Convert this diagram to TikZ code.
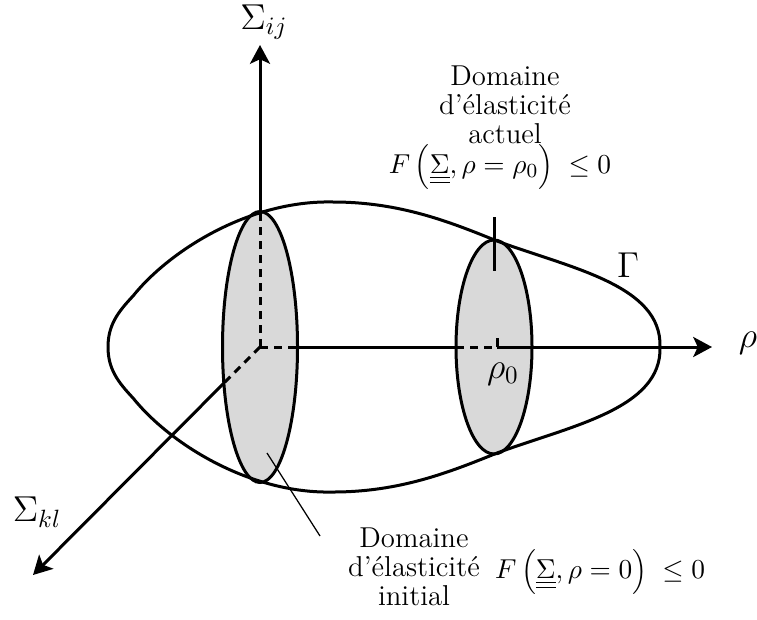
\documentclass[tikz,border=0pt]{standalone}
\usetikzlibrary{shapes.geometric,arrows.meta}
\newcommand\myLP{\mathopen{\hbox{$\left(\vrule height 9pt depth 4pt width 0pt\right.\kern-\nulldelimiterspace$}}}
\newcommand\myRP{\mathclose{\hbox{$\kern-\nulldelimiterspace\left.\vrule height 9pt depth 4pt width 0pt\right)$}}}
\begin{document}
\begin{tikzpicture}[x=0.4pt,y=-0.4pt,
  line width=1.2pt,
  every node/.style={inner sep=0pt, outer sep=0pt},
  disc/.style={ellipse, draw, fill=black!15, line width=1.2pt},
  hid/.style={dash pattern=on 3.2pt off 2.4pt},
  axarrow/.style={-{Stealth[length=7.5pt,width=8pt,inset=1.8pt]}},
  lbl/.style={font=\fontsize{14}{16}\selectfont},
  txt/.style={align=center, font=\fontsize{11.5}{11.6}\selectfont},
  frm/.style={font=\fontsize{11}{12}\selectfont}]
\useasboundingbox (0,0) rectangle (757,619);

% discs
\node[disc, minimum width=30pt, minimum height=108.4pt] (E0) at (260,347) {};
\node[disc, minimum width=30.4pt, minimum height=85.6pt] (E1) at (494,347) {};

% Gamma surface
\draw (108,347) .. controls (108,325) and (118,312) .. (133,296)
  .. controls (170,250) and (250,200) .. (333,202)
  .. controls (400,202) and (450,222) .. (497,241)
  .. controls (570,268) and (662,285) .. (660,347)
  .. controls (662,409) and (570,426) .. (497,453)
  .. controls (450,472) and (400,492) .. (333,492)
  .. controls (250,494) and (170,444) .. (133,398)
  .. controls (118,382) and (108,369) .. cycle;

% axes
\coordinate (O) at (260,347);
\coordinate (Ytip) at (260,45);
\coordinate (Xtip) at (712,347);
\coordinate (Ztip) at (33,575);
\coordinate (R0) at (497,347);
\draw[hid] (O) -- (E0.north);
\draw[axarrow] (E0.north) -- (Ytip);
\draw[hid] (O) -- (E0.east);
\draw (E0.east) -- (E1.west);
\draw[hid] (E1.west) -- (R0);
\draw[axarrow] (R0) -- (Xtip);
\draw (R0) -- ++(0,-9);
\draw[hid] (O) -- (E0.225);
\draw[axarrow] (E0.225) -- (Ztip);

% tick on current domain
\coordinate (T1) at (494,217);
\coordinate (T2) at (494,271);
\draw (T1) -- (T2);

% leader line
\coordinate (L1) at (267,453);
\coordinate (L2) at (320,536);
\draw[line width=0.5pt] (L1) -- (L2);

% labels
\node[lbl] (Sij) at (264,22) {$\Sigma_{ij}$};
\node[lbl] (Skl) at (37,512) {$\Sigma_{kl}$};
\node[lbl] (rho) at (748,343) {$\rho$};
\node[lbl] (Gam) at (628,265) {$\Gamma$};
\node[lbl] (rho0) at (503,374) {$\rho_0$};

\node[txt, anchor=north] (actuel) at (505,66) {Domaine\\d'élasticité\\actuel};
\node[frm] (Fact) at (500,167) {$F\,\myLP\underline{\underline{\Sigma}},\rho=\rho_0\myRP\;\leq 0$};
\node[txt] (initial) at (414,567) {Domaine\\d'élasticité\\initial};
\node[frm] (Finit) at (600,572) {$F\,\myLP\underline{\underline{\Sigma}},\rho=0\myRP\;\leq 0$};
\end{tikzpicture}
\end{document}
